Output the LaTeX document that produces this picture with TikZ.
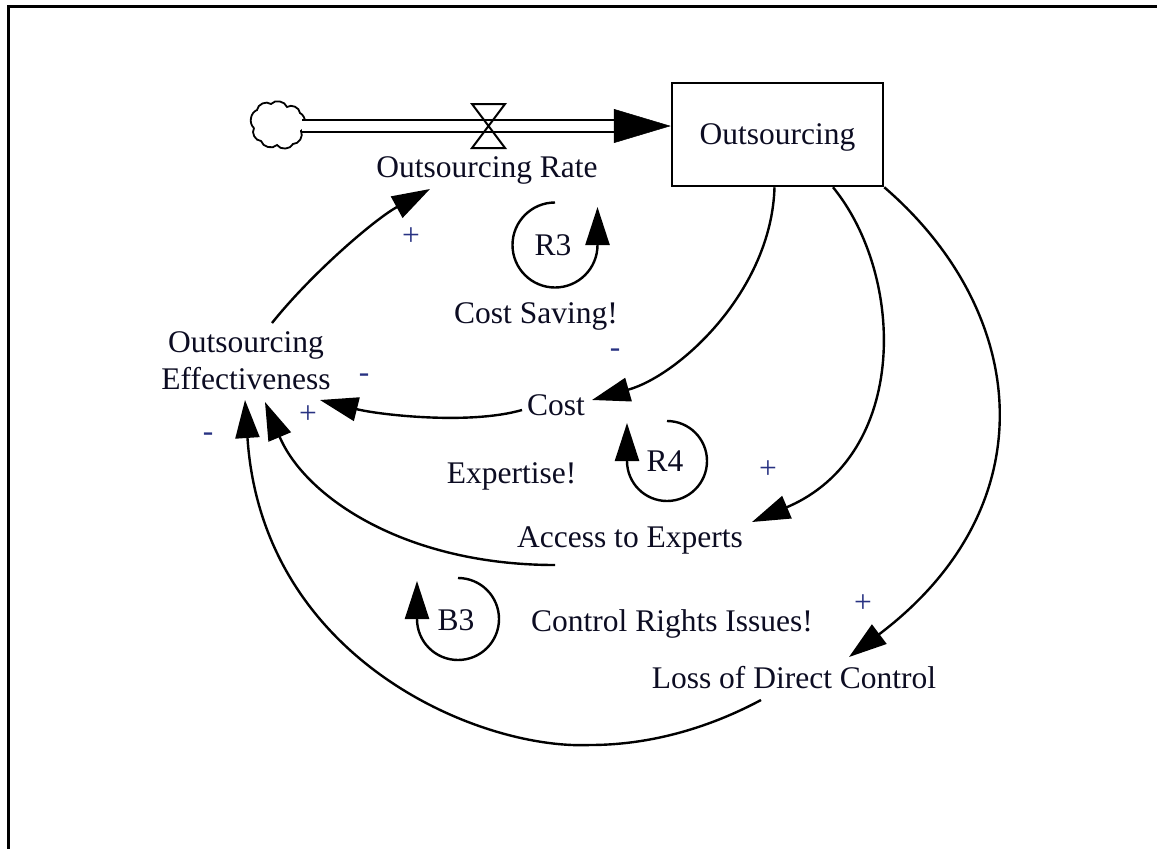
\documentclass[tikz,border=0pt]{standalone}
\usepackage{fontspec}
\setmainfont{Liberation Serif}
\usetikzlibrary{arrows.meta}
\definecolor{ink}{RGB}{12,12,34}
\definecolor{signink}{RGB}{40,50,130}
\begin{document}
\begin{tikzpicture}[x=1pt,y=1pt,
  txt/.style={font=\fontsize{31.5}{37}\selectfont, text=ink, inner sep=0pt},
  lbl/.style={txt, anchor=base},
  sgn/.style={font=\fontsize{31.5}{37}\selectfont, text=signink, inner sep=0pt},
  stockbox/.style={txt, draw, line width=2.5pt, minimum width=211pt, minimum height=103pt, text depth=0pt},
  link/.style={line width=2.4pt, -{Triangle[length=38pt,width=24pt]}},
  loopline/.style={line width=2.4pt, -{Triangle[length=38pt,width=24pt]}},
  pipe/.style={line width=2.5pt, double=white, double distance=9.5pt},
  pipehead/.style={line width=0.5pt, -{Triangle[length=57pt,width=34pt]}},
  valveline/.style={line width=2pt, line join=miter},
  cloudline/.style={line width=1.8pt},
]
\useasboundingbox (0,0) rectangle (1157,-849);

% outer frame (runs off the right and bottom edges)
\draw[line width=3pt, line join=miter] (8,-870) -- (8,-6) -- (1180,-6);

% stock and variables
\node[stockbox] (stock) at (777.5,-134.5) {Outsourcing};
\node[lbl] (rate) at (487,-177) {Outsourcing Rate};
\node[txt, align=center] (eff) at (246,-361) {Outsourcing\\Effectiveness};
\node[lbl] (cost) at (556,-415) {Cost};
\node[lbl] (access) at (630,-547) {Access to Experts};
\node[lbl] (loss) at (794,-688) {Loss of Direct Control};

% loop names
\node[lbl] (saving) at (536,-323) {Cost Saving!};
\node[lbl] (expertise) at (511.5,-483) {Expertise!};
\node[lbl] (rights) at (672,-631) {Control Rights Issues!};
\node[lbl] (r3) at (553,-255) {R3};
\node[lbl] (r4) at (665,-471) {R4};
\node[lbl] (b3) at (456,-630) {B3};

% polarities
\node[sgn] (s1) at (411,-237) {+};
\node[sgn] (s2) at (364,-378) {-};
\node[sgn] (s3) at (308,-415) {+};
\node[sgn] (s4) at (208,-437) {-};
\node[sgn] (s5) at (615,-353) {-};
\node[sgn] (s6) at (768,-470) {+};
\node[sgn] (s7) at (863,-604) {+};

% source cloud
\coordinate (src) at (302,-126);
\draw[cloudline] (254,-128) to[bend left=60] (257,-110) to[bend left=60] (271,-104)
  to[bend left=60] (287,-107) to[bend left=60] (300,-113) to[bend left=60] (301,-131)
  to[bend left=60] (293,-144) to[bend left=60] (277,-145) to[bend left=60] (261,-141)
  to[bend left=60] (254,-128);

% inflow pipe with valve
\draw[pipe] (src) -- ([shift={(-57,8.5)}]stock.west);
\draw[pipehead] ([shift={(-57,8.5)}]stock.west) -- ([yshift=8.5pt]stock.west);
\coordinate (valve) at (488.5,-126);
\draw[valveline] ([shift={(-16.5,22)}]valve) -- ++(33,0) -- ++(-33,-44) -- ++(33,0) -- cycle;

% causal links
\draw[link] ([shift={(26,38)}]eff.center) .. controls +(40,50) and +(-55,-30) .. ([shift={(-57,-12)}]rate.base);
\draw[link] ([xshift=-3pt]stock.south) .. controls +(-3,-103) and +(88,25) .. ([shift={(36,15)}]cost.base);
\draw[link] ([shift={(-34,5)}]cost.base) .. controls +(-52,-15) and +(60,-15) .. ([shift={(74,-39)}]eff.center);
\draw[link] ([xshift=55.5pt]stock.south) .. controls +(72,-88) and +(158,67) .. ([shift={(122,25)}]access.base);
\draw[link] (stock.south east) .. controls +(145,-125) and +(200,151) .. ([shift={(55,31)}]loss.base);
\draw[link] ([shift={(-75,-18)}]access.base) .. controls +(-150,0) and +(40,-95) .. ([shift={(19,-41)}]eff.center);
\draw[link] ([shift={(-33,-12)}]loss.base) .. controls +(-41,-22) and +(70,0) .. (590,-745)
  .. controls +(-110,-5) and +(17,-260) .. ([shift={(-1,-39)}]eff.center);

% loop symbols
\draw[loopline] ([shift={(2,52.5)}]r3.base) arc[start angle=90, end angle=360, radius=42.5] -- ++(0,38);
\draw[loopline] ([shift={(2,50)}]r4.base) arc[start angle=90, end angle=-180, radius=40] -- ++(0,38);
\draw[loopline] ([shift={(2,52)}]b3.base) arc[start angle=90, end angle=-180, radius=41] -- ++(0,38);
\end{tikzpicture}
\end{document}
